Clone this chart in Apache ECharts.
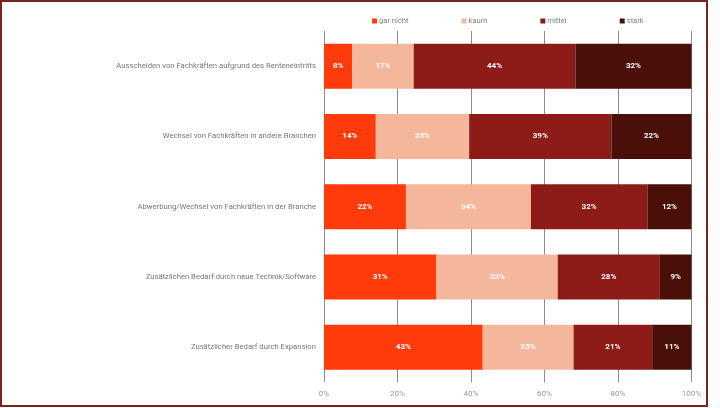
<!DOCTYPE html>
<html>
<head>
<meta charset="utf-8">
<script src="https://cdn.jsdelivr.net/npm/echarts@6/dist/echarts.min.js"></script>
<style>
html,body{margin:0;padding:0;background:#fff;}
#chart{width:720px;height:408px;}
</style>
</head>
<body>
<div id="chart"></div>
<script>
var categories = [
  "Ausscheiden von Fachkräften aufgrund des Renteneintritts",
  "Wechsel von Fachkräften in andere Branchen",
  "Abwerbung/Wechsel von Fachkräften in der Branche",
  "Zusätzlichen Bedarf durch neue Technik/Software",
  "Zusätzlicher Bedarf durch Expansion"
];
var seriesNames = ["gar nicht", "kaum", "mittel", "stark"];
var garNicht = [7.7, 14.1, 22.3, 30.6, 43.2];
var kaum     = [16.7, 25.4, 34.0, 33.0, 24.7];
var mittel   = [44.0, 38.7, 31.7, 27.8, 21.4];
var stark    = [31.6, 21.8, 12.0, 8.6, 10.7];
var xTicks = [0, 20, 40, 60, 80, 100];

var colors = ["#ff3a0b", "#f5b79b", "#8d1b17", "#4a0f09"];
var values = [garNicht, kaum, mittel, stark];
var font = "Roboto";

var chart = echarts.init(document.getElementById('chart'), null, {renderer: 'canvas'});
var series = seriesNames.map(function (name, i) {
  return {
    name: name,
    type: 'bar',
    stack: 'total',
    data: values[i],
    barWidth: '64%',
    itemStyle: {color: colors[i]},
    label: {
      show: true,
      position: 'inside',
      color: '#ffffff',
      fontFamily: font,
      fontWeight: 'bold',
      fontSize: 8,
      formatter: function (p) { return Math.round(p.value) + '%'; }
    }
  };
});

chart.setOption({
  animation: false,
  backgroundColor: '#ffffff',
  legend: {
    data: seriesNames,
    left: 367,
    top: 12,
    itemWidth: 5,
    itemHeight: 5,
    itemGap: 53,
    icon: 'rect',
    textStyle: {color: '#808080', fontSize: 7.6, fontFamily: font, padding: [0, 0, 0, -3]}
  },
  grid: {left: 324, right: 28.5, top: 31, bottom: 25.6, containLabel: false},
  xAxis: {
    type: 'value',
    min: xTicks[0],
    max: xTicks[xTicks.length - 1],
    interval: 20,
    axisLine: {show: false},
    axisTick: {show: false},
    axisLabel: {color: '#999', fontSize: 8, fontFamily: font, margin: 8, formatter: '{value}%'},
    splitLine: {show: true, lineStyle: {color: '#8c8c8c', width: 1}}
  },
  yAxis: {
    type: 'category',
    data: categories,
    inverse: true,
    axisLine: {show: false},
    axisTick: {show: false},
    axisLabel: {color: '#777', fontSize: 7.7, fontFamily: font, margin: 8}
  },
  graphic: [{
    type: 'rect',
    shape: {x: 1, y: 1, width: 706, height: 405},
    style: {fill: 'none', stroke: '#7a2420', lineWidth: 2},
    silent: true
  }],
  series: series
});
</script>
</body>
</html>
